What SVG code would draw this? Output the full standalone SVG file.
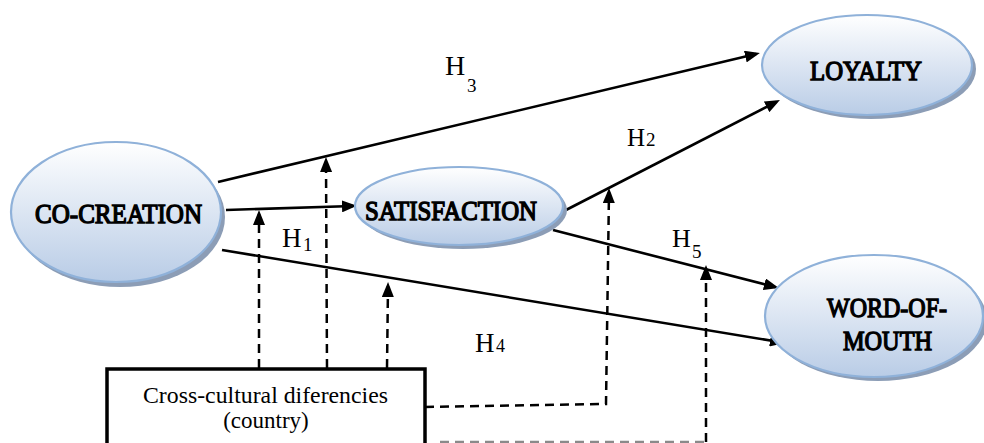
<svg xmlns="http://www.w3.org/2000/svg" width="984" height="443" viewBox="0 0 984 443">
  <defs>
    <linearGradient id="fillGrad" x1="0" y1="0" x2="0" y2="1">
      <stop offset="0" stop-color="#ffffff"/>
      <stop offset="1" stop-color="#b9cce6"/>
    </linearGradient>
    <marker id="arrow" markerUnits="userSpaceOnUse" markerWidth="16" markerHeight="12" refX="11" refY="6" orient="auto">
      <path d="M0,0 L15,6 L0,12 z" fill="#000"/>
    </marker>
  </defs>
  <style>
    .shadow { fill: #8c9db6; }
    .node { fill: url(#fillGrad); stroke: #8fb1d9; stroke-width: 2.2; }
    .ntext { font-family: "Liberation Serif", "Times New Roman", serif; font-weight: normal; font-size: 28px; fill: #000; stroke: #000; stroke-width: 1.4; }
    .solid { fill: none; stroke: #000; stroke-width: 2.6; marker-end: url(#arrow); }
    .dashA { fill: none; stroke: #000; stroke-width: 2.5; stroke-dasharray: 9 6; marker-end: url(#arrow); }
    .lbl { font-family: "Liberation Serif", "Times New Roman", serif; fill: #000; }
    .box { fill: #fff; stroke: #000; stroke-width: 3.5; }
    .btext { font-family: "Liberation Serif", "Times New Roman", serif; font-size: 23px; fill: #000; }
  </style>

  <g id="connectors">
    <line class="solid" x1="218" y1="182" x2="756" y2="54"/>
    <line class="solid" x1="226" y1="210" x2="353" y2="206"/>
    <line class="solid" x1="222" y1="250" x2="781" y2="342.3"/>
    <line class="solid" x1="566" y1="210" x2="776.4" y2="101.8"/>
    <line class="solid" x1="553" y1="230" x2="775" y2="287"/>
    <polyline class="dashA" points="259,368 259,214"/>
    <polyline class="dashA" points="327,368 326,161"/>
    <polyline class="dashA" points="387,368 388,286"/>
    <polyline class="dashA" points="425,407 606,404 609,192"/>
    <line x1="440" y1="442" x2="706" y2="442" stroke="#8a8a8a" stroke-width="2.5" stroke-dasharray="9 6"/>
    <polyline class="dashA" points="706,442 706,269"/>
  </g>

  <g id="co-creation">
    <ellipse class="shadow" cx="120" cy="217" rx="105" ry="70"/>
    <ellipse class="node" cx="116" cy="212" rx="105" ry="70"/>
    <text class="ntext" x="35" y="223" textLength="167" lengthAdjust="spacingAndGlyphs">CO-CREATION</text>
  </g>

  <g id="satisfaction">
    <ellipse class="shadow" cx="463" cy="210" rx="104" ry="39"/>
    <ellipse class="node" cx="459" cy="206" rx="104" ry="39"/>
    <text class="ntext" x="365" y="220" textLength="172" lengthAdjust="spacingAndGlyphs">SATISFACTION</text>
  </g>

  <g id="loyalty">
    <ellipse class="shadow" cx="871" cy="69" rx="105" ry="50"/>
    <ellipse class="node" cx="867" cy="65" rx="105" ry="50"/>
    <text class="ntext" x="810" y="80" textLength="112" lengthAdjust="spacingAndGlyphs">LOYALTY</text>
  </g>

  <g id="word-of-mouth">
    <ellipse class="shadow" cx="878" cy="320" rx="109" ry="61"/>
    <ellipse class="node" cx="874" cy="316" rx="109" ry="61"/>
    <text class="ntext" x="827" y="317" textLength="120" lengthAdjust="spacingAndGlyphs">WORD-OF-</text>
    <text class="ntext" x="843" y="350" textLength="89" lengthAdjust="spacingAndGlyphs">MOUTH</text>
  </g>

  <g id="cross-cultural">
    <rect class="box" x="107" y="369" width="318" height="80"/>
    <text class="btext" x="143" y="403" textLength="245" lengthAdjust="spacingAndGlyphs">Cross-cultural diferencies</text>
    <text class="btext" x="266" y="428" text-anchor="middle">(country)</text>
  </g>

  <g id="labels">
    <text class="lbl" x="445" y="75" font-size="28">H</text>
    <text class="lbl" x="467" y="92" font-size="19">3</text>
    <text class="lbl" x="627" y="146" font-size="25">H</text>
    <text class="lbl" x="646" y="146" font-size="19">2</text>
    <text class="lbl" x="672" y="247" font-size="26">H</text>
    <text class="lbl" x="692" y="258" font-size="19">5</text>
    <text class="lbl" x="282" y="247" font-size="27">H</text>
    <text class="lbl" x="303" y="251" font-size="19">1</text>
    <text class="lbl" x="475" y="352" font-size="27">H</text>
    <text class="lbl" x="496" y="352" font-size="18">4</text>
  </g>
</svg>
